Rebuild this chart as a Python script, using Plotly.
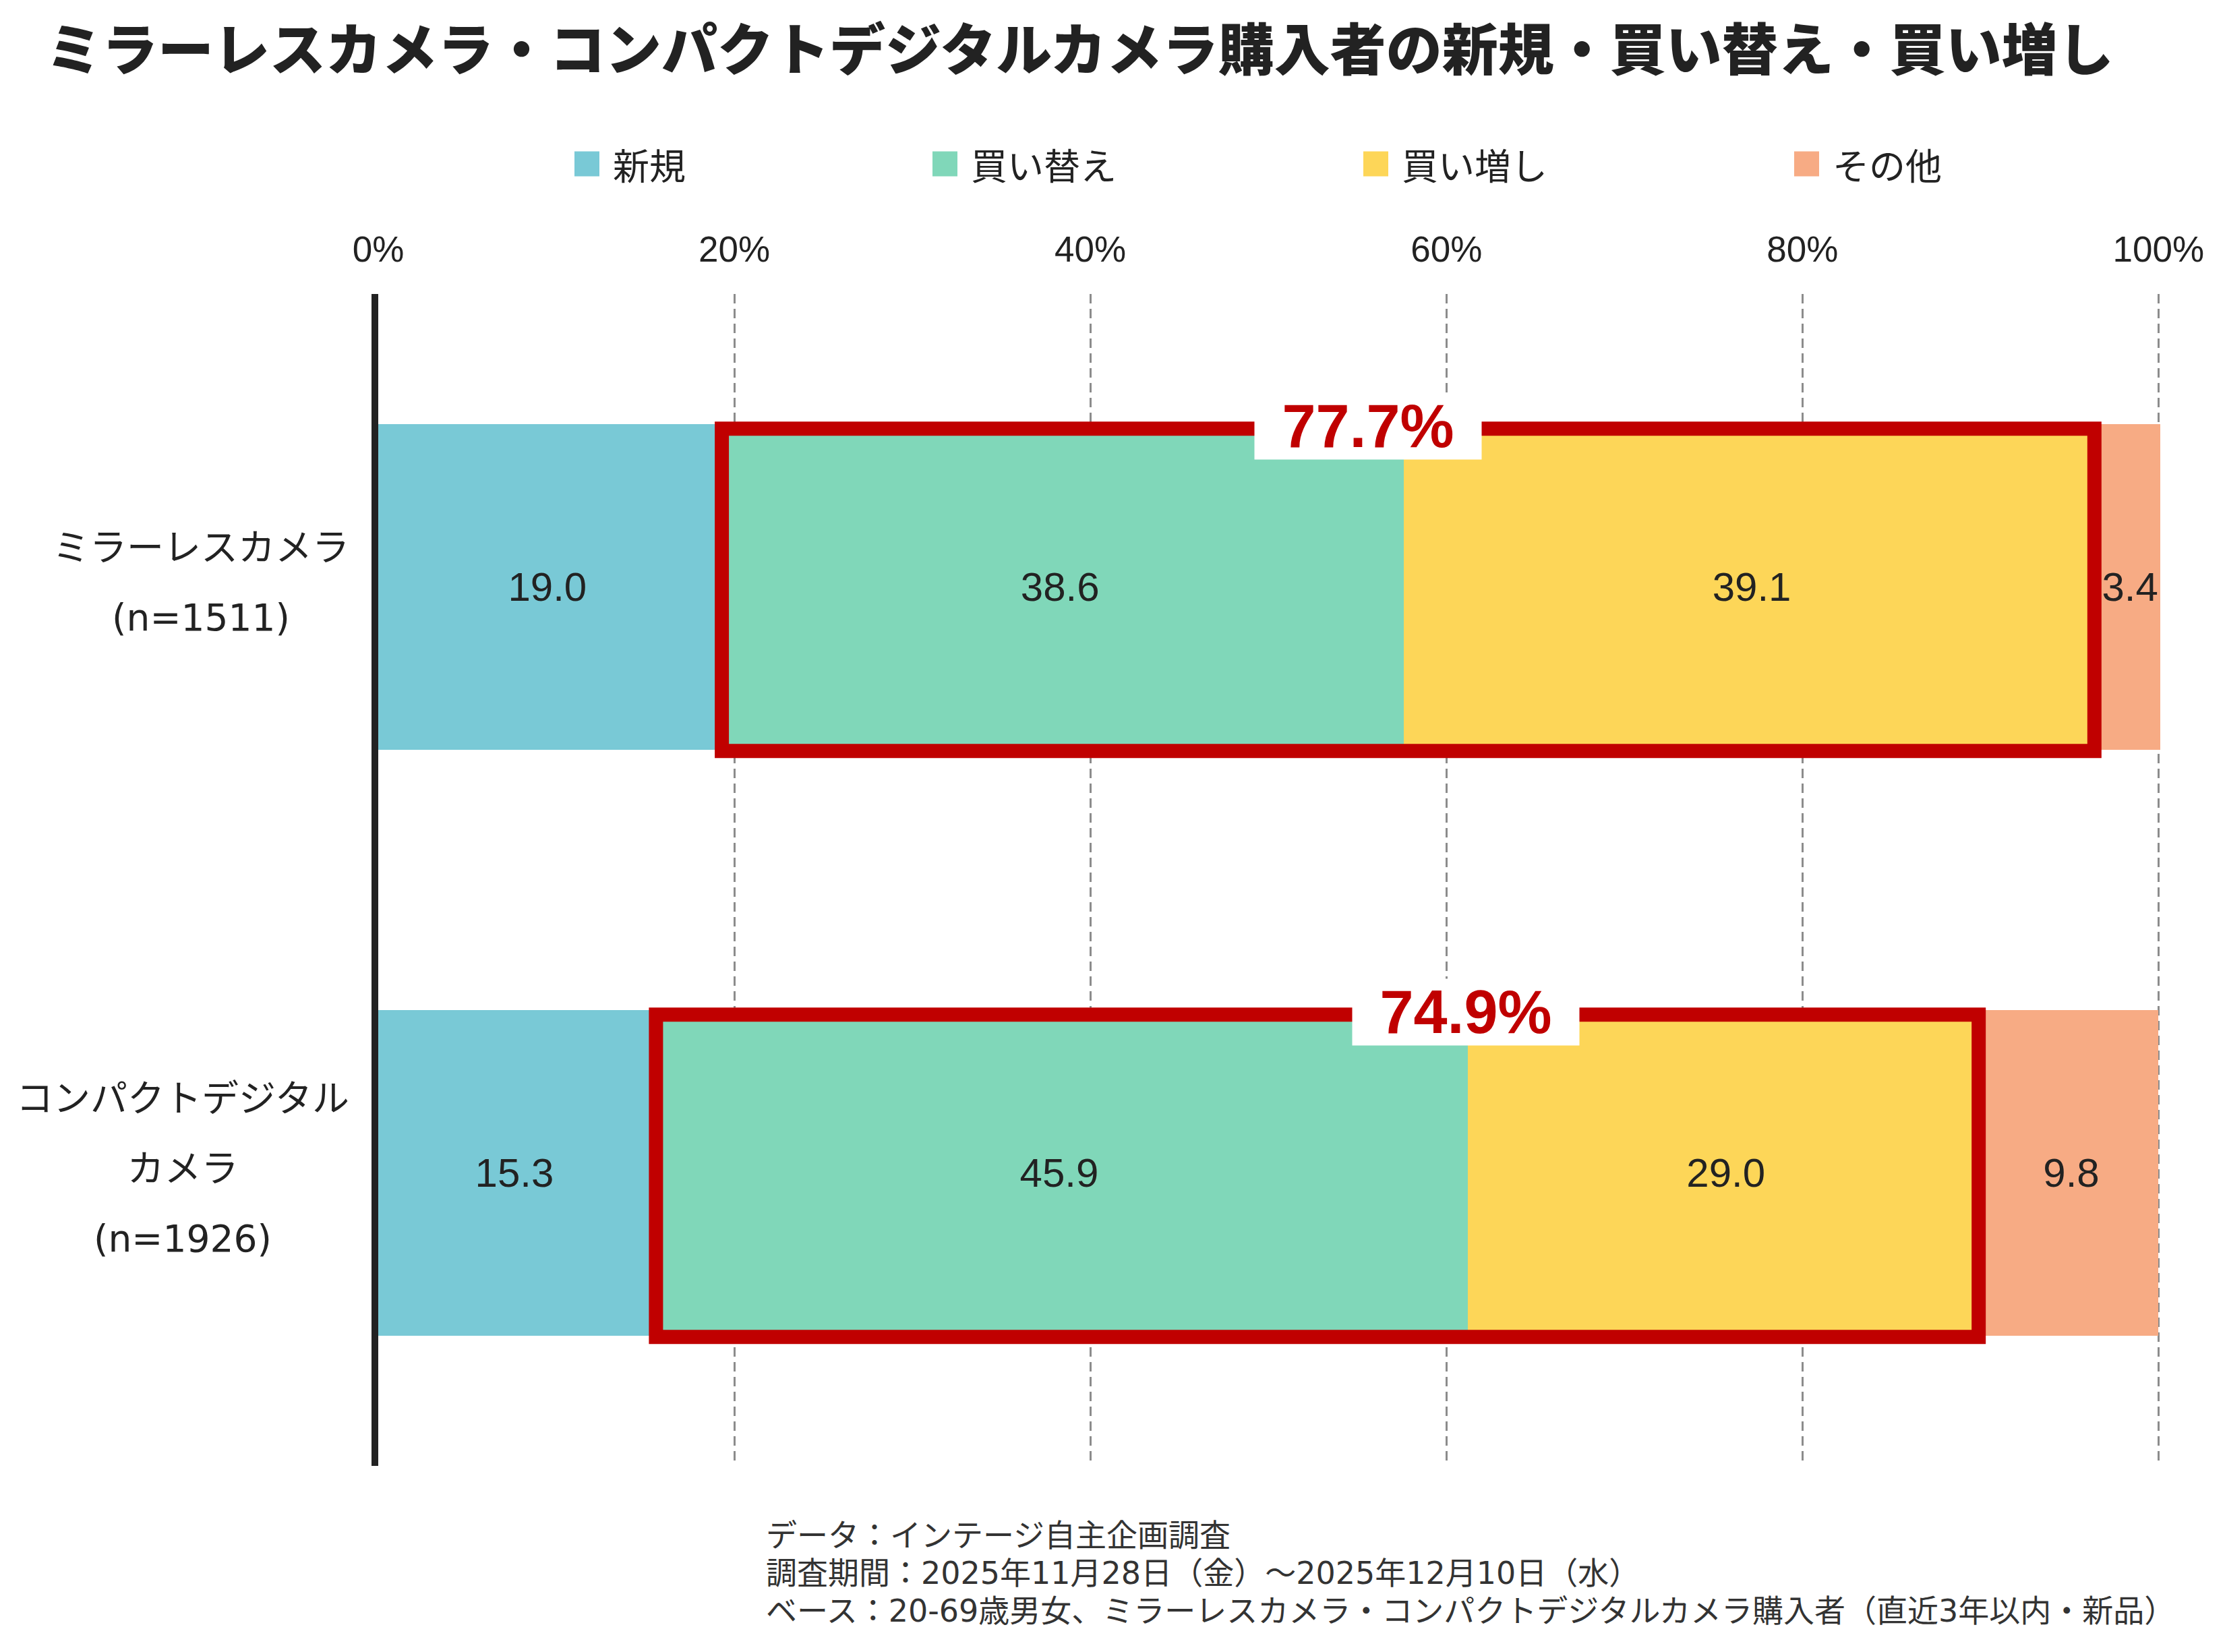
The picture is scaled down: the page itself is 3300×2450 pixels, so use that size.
import plotly.graph_objects as go

# ---------------- data ----------------
categories = ["ミラーレスカメラ", "コンパクトデジタルカメラ"]
category_lines = [["ミラーレスカメラ", "(n=1511)"],
                  ["コンパクトデジタル", "カメラ", "(n=1926)"]]
series_names = ["新規", "買い替え", "買い増し", "その他"]
new_vals = [19.0, 15.3]
replace_vals = [38.6, 45.9]
add_vals = [39.1, 29.0]
other_vals = [3.4, 9.8]
x_tick_vals = [0, 20, 40, 60, 80, 100]
x_tick_text = ["0%", "20%", "40%", "60%", "80%", "100%"]
footnote_lines = [
    "データ：インテージ自主企画調査",
    "調査期間：2025年11月28日（金）～2025年12月10日（水）",
    "ベース：20-69歳男女、ミラーレスカメラ・コンパクトデジタルカメラ購入者（直近3年以内・新品）",
]
title_text = "ミラーレスカメラ・コンパクトデジタルカメラ購入者の新規・買い替え・買い増し"

# ---------------- styles / layout ----------------
colors = ["#79C9D6", "#80D7B9", "#FDD658", "#F7AB84"]
RED = "#C00000"
TXT = "#222222"
LATIN = "Liberation Sans, Arial, Noto Sans CJK JP"
JP = "Noto Sans CJK JP, DejaVu Sans"
MIXED = "DejaVu Sans, Noto Sans CJK JP"
W, H = 3300, 2450
OFF = 8  # page body margin offset
X_MAX = 100.1
# target on-screen plot area: x 561..(100% at 3201), y 436..2174
ML = 561 - OFF
MT = 436 - OFF
PW = round((3201 - 561) * X_MAX / 100)
MR = W - ML - PW
MB = H - (2174 - OFF)
PH = H - MT - MB


def sx(px):
    """screen px -> paper x"""
    return (px - OFF - ML) / PW


def sy(py):
    """screen px -> paper y"""
    return (H - MB - (py - OFF)) / PH


series_vals = [new_vals, replace_vals, add_vals, other_vals]

fig = go.Figure()
for name, vals, col in zip(series_names, series_vals, colors):
    fig.add_trace(go.Bar(
        y=categories, x=vals, name=name, orientation="h",
        marker=dict(color=col, line=dict(width=0)),
        width=0.555,
        text=[f"{v:.1f}" for v in vals],
        textposition="inside", insidetextanchor="middle", textangle=0,
        textfont=dict(family=LATIN, size=60, color=TXT),
        hoverinfo="skip", showlegend=False,
    ))

shapes = []
annotations = []

# red frames around 買い替え + 買い増し with sum labels
SUM_LABEL_X = [55.6, 61.1]
for i in range(len(categories)):
    start = new_vals[i]
    end = new_vals[i] + replace_vals[i] + add_vals[i]
    shapes.append(dict(type="rect", xref="x", yref="y",
                       x0=start + 0.3, x1=end - 0.3, y0=i - 0.27, y1=i + 0.28,
                       line=dict(color=RED, width=21), fillcolor="rgba(0,0,0,0)",
                       layer="above"))
    total = replace_vals[i] + add_vals[i]
    annotations.append(dict(
        x=SUM_LABEL_X[i], y=i - 0.274, xref="x", yref="y",
        text=f"<b>{total:.1f}%</b>", showarrow=False,
        font=dict(family=LATIN, size=90, color=RED),
        bgcolor="white", width=336, height=98, borderpad=0,
        xanchor="center", yanchor="middle", align="center", valign="middle"))

# category labels (centered lines, wide spacing)
for i, lines in enumerate(category_lines):
    txt = "<br>".join(f"<span style='font-size:55px'>{l}</span>" for l in lines)
    annotations.append(dict(
        x=sx(520), y=i, xref="paper", yref="y", yshift=7,
        text=txt, showarrow=False, align="center",
        xanchor="right", yanchor="middle",
        font=dict(family=MIXED, size=80, color=TXT)))

# custom legend
SW = 37
x_px = 852
legend_cy = 243
for name, col in zip(series_names, colors):
    shapes.append(dict(type="rect", xref="paper", yref="paper",
                       x0=sx(x_px), x1=sx(x_px + SW),
                       y0=sy(legend_cy + SW / 2), y1=sy(legend_cy - SW / 2),
                       fillcolor=col, line=dict(width=0), layer="above"))
    annotations.append(dict(
        x=sx(x_px + 55), y=sy(legend_cy), xref="paper", yref="paper",
        text=name, showarrow=False, xanchor="left", yanchor="middle",
        font=dict(family=JP, size=54, color=TXT)))
    x_px += 55 + 54 * len(name) + 368

# footnote (one annotation per line)
for k, line in enumerate(footnote_lines):
    annotations.append(dict(
        x=sx(1134), y=sy(2277 + 56 * k), xref="paper", yref="paper",
        text=line, showarrow=False, xanchor="left", yanchor="middle",
        align="left", font=dict(family=MIXED, size=46, color="#333333")))

fig.update_layout(
    width=W, height=H, barmode="stack",
    paper_bgcolor="white", plot_bgcolor="white",
    margin=dict(l=ML, r=MR, t=MT, b=MB, pad=0),
    font=dict(family=LATIN, color=TXT),
    uniformtext=dict(minsize=60, mode="show"),
    title=dict(text=title_text, xref="container", yref="container",
               x=(68 - OFF) / W, y=1 - (75 - OFF) / H, xanchor="left", yanchor="middle",
               font=dict(family=JP, size=83, color=TXT, weight=900)),
    xaxis=dict(side="top", range=[0, X_MAX], tickvals=x_tick_vals, ticktext=x_tick_text,
               showgrid=True, gridcolor="#8c8c8c", gridwidth=2.5, griddash="14px,8px",
               zeroline=False, showline=False, ticks="", ticklabelstandoff=36,
               tickfont=dict(family=LATIN, size=53, color=TXT), fixedrange=True),
    yaxis=dict(range=[1.5, -0.5], categoryorder="array", categoryarray=categories,
               showticklabels=False, showgrid=False, zeroline=False, ticks="",
               showline=True, linecolor=TXT, linewidth=10, fixedrange=True),
    shapes=shapes, annotations=annotations, showlegend=False,
)

fig.write_html("out.html")
